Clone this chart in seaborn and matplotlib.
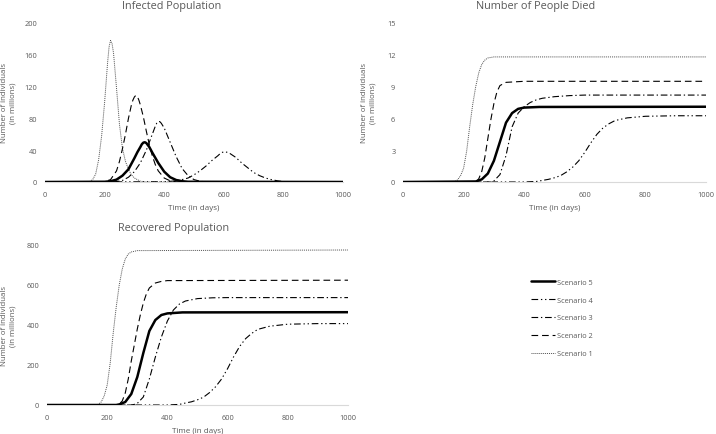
import numpy as np
import pandas as pd
import seaborn as sns
import matplotlib.pyplot as plt

# values (millions of people, day of simulation)
inf_s1_days = [0, 140, 150, 160, 170, 180, 190, 200, 210, 215, 220, 225, 230, 240, 250, 260, 270, 280, 290, 300, 320, 340, 1000]
inf_s1 = [0, 0, 0.5, 3, 10, 28, 58, 100, 150, 170, 178, 174, 162, 118, 72, 42, 26, 16, 9, 5, 1, 0, 0]
inf_s2_days = [0, 200, 220, 240, 250, 260, 270, 280, 290, 295, 300, 305, 310, 315, 320, 330, 340, 350, 360, 370, 380, 400, 420, 440, 1000]
inf_s2 = [0, 0.5, 3, 14, 26, 42, 60, 80, 97, 103, 107, 109, 107.5, 103, 97, 82, 64, 47, 33, 22, 14, 5, 1.5, 0.3, 0]
inf_s3_days = [0, 240, 260, 280, 300, 320, 340, 360, 370, 375, 380, 385, 390, 400, 420, 440, 460, 480, 500, 520, 540, 1000]
inf_s3 = [0, 0.5, 2, 6, 13, 24, 40, 60, 70, 74, 76, 76, 74, 68, 50, 32, 17, 8, 3, 1, 0, 0]
inf_s4_days = [0, 400, 440, 460, 480, 500, 520, 540, 560, 580, 590, 600, 610, 620, 640, 660, 680, 700, 720, 740, 760, 780, 800, 820, 1000]
inf_s4 = [0, 0.3, 1.5, 3, 5, 9, 14, 20, 27, 33, 36.5, 38, 37.5, 36, 31, 24, 18, 12, 8, 5, 3, 1.5, 0.5, 0, 0]
inf_s5_days = [0, 200, 220, 240, 260, 280, 300, 310, 320, 325, 330, 335, 340, 350, 360, 380, 400, 420, 440, 460, 480, 1000]
inf_s5 = [0, 0.3, 1, 3, 8, 16, 30, 37.5, 44, 47.5, 49.5, 50, 49, 44, 37, 24, 13, 6, 2.5, 1, 0.3, 0]

died_s1_days = [0, 170, 180, 190, 200, 210, 220, 230, 240, 250, 260, 270, 280, 300, 1000]
died_s1 = [0, 0, 0.2, 0.6, 1.3, 2.9, 5.2, 7.3, 9.0, 10.3, 11.1, 11.5, 11.7, 11.8, 11.8]
died_s2_days = [0, 240, 250, 260, 270, 280, 290, 300, 310, 320, 340, 400, 1000]
died_s2 = [0, 0, 0.3, 1.0, 2.3, 4.1, 5.9, 7.4, 8.5, 9.1, 9.4, 9.5, 9.5]
died_s3_days = [0, 290, 300, 320, 340, 360, 380, 400, 420, 440, 460, 500, 550, 600, 1000]
died_s3 = [0, 0, 0.1, 0.7, 2.5, 5.2, 6.5, 7.1, 7.5, 7.75, 7.9, 8.05, 8.15, 8.2, 8.2]
died_s4_days = [0, 400, 440, 460, 480, 500, 520, 540, 560, 580, 600, 620, 640, 660, 680, 700, 740, 800, 900, 1000]
died_s4 = [0, 0, 0.05, 0.15, 0.25, 0.4, 0.6, 0.95, 1.4, 2.0, 2.8, 3.7, 4.5, 5.1, 5.5, 5.8, 6.05, 6.2, 6.25, 6.25]
died_s5_days = [0, 240, 260, 280, 300, 320, 340, 360, 380, 400, 450, 1000]
died_s5 = [0, 0.05, 0.25, 0.8, 2.0, 3.8, 5.6, 6.5, 6.9, 7.02, 7.08, 7.1]

rec_s1_days = [0, 160, 170, 180, 190, 200, 210, 220, 230, 240, 250, 260, 270, 280, 300, 1000]
rec_s1 = [0, 0, 3, 15, 45, 100, 210, 360, 490, 600, 680, 730, 755, 765, 772, 775]
rec_s2_days = [0, 230, 240, 250, 260, 270, 280, 290, 300, 310, 320, 330, 340, 360, 380, 400, 1000]
rec_s2 = [0, 0, 5, 20, 60, 130, 220, 300, 380, 450, 510, 555, 585, 610, 618, 622, 624]
rec_s3_days = [0, 280, 290, 300, 320, 340, 360, 380, 400, 420, 440, 460, 500, 550, 600, 1000]
rec_s3 = [0, 0, 3, 8, 40, 130, 240, 340, 420, 475, 505, 520, 532, 536, 537, 537]
rec_s4_days = [0, 400, 440, 460, 480, 500, 520, 540, 560, 580, 600, 620, 640, 660, 680, 700, 740, 800, 900, 1000]
rec_s4 = [0, 0, 3, 10, 16, 26, 39, 62, 91, 130, 182, 241, 293, 332, 358, 378, 394, 404, 407, 407]
rec_s5_days = [0, 230, 240, 260, 280, 300, 320, 340, 360, 380, 400, 450, 1000]
rec_s5 = [0, 0, 3, 15, 55, 140, 260, 370, 425, 450, 458, 463, 464]

scenarios = ['Scenario 1', 'Scenario 2', 'Scenario 3', 'Scenario 4', 'Scenario 5']
legend_order = ['Scenario 5', 'Scenario 4', 'Scenario 3', 'Scenario 2', 'Scenario 1']

styles = {
    'Scenario 1': dict(color='#505050', lw=0.7, linestyle=(0, (1, 1))),
    'Scenario 2': dict(color='black', lw=0.8, linestyle=(0, (6, 3.5))),
    'Scenario 3': dict(color='black', lw=0.8, linestyle=(0, (6, 2.5, 1.2, 2.5))),
    'Scenario 4': dict(color='black', lw=0.8, linestyle=(0, (6, 2.5, 1.2, 2.5, 1.2, 2.5))),
    'Scenario 5': dict(color='black', lw=1.8, linestyle='-'),
}

panels = [
    dict(days=[inf_s1_days, inf_s2_days, inf_s3_days, inf_s4_days, inf_s5_days],
         vals=[inf_s1, inf_s2, inf_s3, inf_s4, inf_s5],
         title='Infected Population', ymax=200, ystep=40,
         rect=[45/716, 1-183/435, 298/716, 159/435], title_xy=(172, 7), ylab_x=9),
    dict(days=[died_s1_days, died_s2_days, died_s3_days, died_s4_days, died_s5_days],
         vals=[died_s1, died_s2, died_s3, died_s4, died_s5],
         title='Number of People Died', ymax=15, ystep=3,
         rect=[403/716, 1-183/435, 303/716, 159/435], title_xy=(536, 7), ylab_x=369),
    dict(days=[rec_s1_days, rec_s2_days, rec_s3_days, rec_s4_days, rec_s5_days],
         vals=[rec_s1, rec_s2, rec_s3, rec_s4, rec_s5],
         title='Recovered Population', ymax=800, ystep=200,
         rect=[47/716, 1-406/435, 301/716, 160/435], title_xy=(174, 228), ylab_x=9),
]

sns.set_style('white')
plt.rcParams['font.family'] = ['Open Sans', 'DejaVu Sans']
grey = '#595959'

fig = plt.figure(figsize=(7.16, 4.35), dpi=100)
handles = {}
for p in panels:
    ax = fig.add_axes(p['rect'])
    for name, d, v in zip(scenarios, p['days'], p['vals']):
        df = pd.DataFrame({'day': d, 'value': v})
        sns.lineplot(data=df, x='day', y='value', ax=ax, estimator=None, sort=True,
                     zorder=3 if name == 'Scenario 5' else 2, **styles[name])
        handles[name] = ax.lines[-1]
    ax.set_xlim(0, 1000)
    ax.set_ylim(0, p['ymax'])
    ax.set_xticks(np.arange(0, 1001, 200))
    ax.set_yticks(np.arange(0, p['ymax'] + 0.1, p['ystep']))
    ax.tick_params(length=0, labelsize=5.3, labelcolor=grey, pad=6.5)
    ax.tick_params(axis='y', pad=5.5)
    for s in ['top', 'right', 'left']:
        ax.spines[s].set_visible(False)
    ax.spines['bottom'].set_color('#d9d9d9')
    ax.spines['bottom'].set_linewidth(0.8)
    ax.spines['bottom'].set_zorder(0)
    ax.set_xlabel('Time (in days)', fontsize=5.8, color=grey, labelpad=4)
    ax.set_ylabel('')
    h = p['rect'][1] + p['rect'][3] / 2
    fig.text(p['ylab_x'] / 716, h, 'Number of individuals\n(in millions)', rotation=90,
             ha='center', va='center', fontsize=5.6, color=grey, multialignment='center',
             linespacing=1.4)
    fig.text(p['title_xy'][0] / 716, 1 - p['title_xy'][1] / 435, p['title'],
             ha='center', va='center', fontsize=7.8, color=grey)

leg = fig.legend([handles[n] for n in legend_order], legend_order,
                 loc='upper left', bbox_to_anchor=(524/716, 1-273/435), frameon=False,
                 fontsize=5.3, handlelength=3.3, handletextpad=0.25, labelspacing=1.45,
                 labelcolor=grey)

plt.savefig('out.png', dpi=100)
